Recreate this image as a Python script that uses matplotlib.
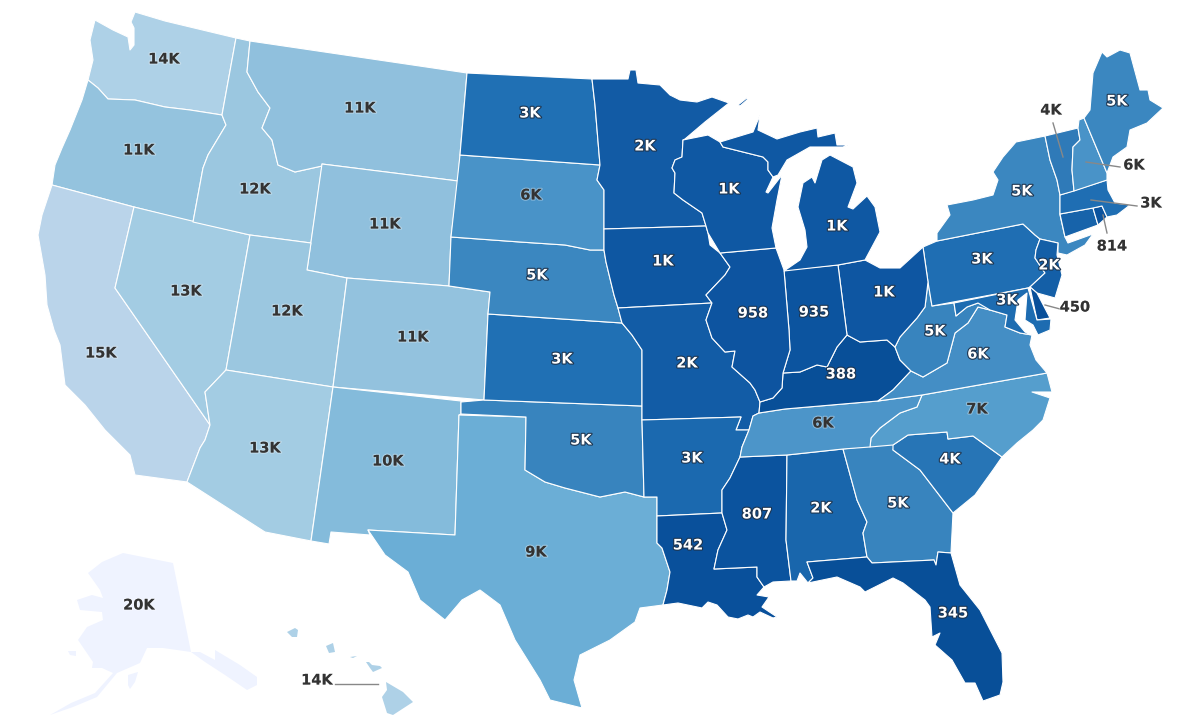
import matplotlib
matplotlib.use("Agg")
import matplotlib.pyplot as plt
import matplotlib.patheffects as pe
from matplotlib.colors import LinearSegmentedColormap

# state outlines (x, y in picture pixels)
WA = [(95,20),(113,30),(128,37),(130,50),(134,45),(134,28),(131,22),(135,12),(165,21),(236,38),(222,115),(190,110),(165,107),(135,100),(108,99),(98,88),(88,80),(93,60),(90,40)]
OR = [(88,80),(98,88),(108,99),(135,100),(165,107),(190,110),(222,115),(226,125),(208,155),(203,168),(193,222),(134,207),(52,185),(55,165),(62,148),(70,130),(82,100)]
CA = [(52,185),(134,207),(115,288),(210,425),(205,440),(200,448),(187,482),(135,475),(130,455),(105,430),(85,405),(65,385),(60,345),(54,330),(47,305),(45,275),(38,235),(42,215)]
NV = [(134,207),(250,235),(226,370),(205,392),(210,425),(115,288)]
ID = [(236,38),(250,41),(247,72),(258,92),(270,108),(262,128),(272,140),(278,165),(295,172),(322,166),(311,243),(250,235),(193,222),(203,168),(208,155),(226,125),(222,115)]
MT = [(250,41),(467,73),(460,155),(458,181),(322,164),(322,166),(295,172),(278,165),(272,140),(262,128),(270,108),(258,92),(247,72)]
WY = [(322,164),(458,181),(451,237),(449,286),(347,278),(307,270)]
UT = [(250,235),(311,243),(307,270),(347,278),(333,387),(226,370)]
CO = [(347,278),(449,286),(490,292),(488,314),(484,400),(333,387)]
AZ = [(226,370),(333,387),(311,541),(265,532),(187,482),(200,448),(205,440),(210,425),(205,392)]
NM = [(333,387),(461,401),(461,414),(459,415),(455,535),(368,530),(370,535),(331,532),(329,544),(311,541)]
TX = [(459,415),(526,417),(525,470),(545,482),(565,488),(600,497),(625,492),(644,497),(657,497),(657,543),(662,548),(670,572),(667,590),(663,605),(640,608),(635,622),(610,640),(580,655),(574,680),(582,708),(550,700),(540,680),(515,640),(500,605),(480,590),(462,600),(445,620),(420,600),(408,572),(385,555),(368,530),(455,535)]
OK = [(461,402),(484,400),(642,406),(642,420),(644,497),(625,492),(600,497),(565,488),(545,482),(525,470),(526,417),(461,414)]
KS = [(488,314),(622,323),(632,335),(642,350),(642,406),(484,400)]
NE = [(451,237),(520,242),(565,245),(590,250),(604,250),(606,262),(614,295),(618,308),(622,323),(488,314),(490,292),(449,286)]
SD = [(460,155),(600,165),(597,180),(604,190),(604,229),(604,250),(590,250),(565,245),(520,242),(451,237)]
ND = [(467,73),(592,79),(595,105),(600,165),(460,155)]
MN = [(592,79),(628,79),(630,70),(636,70),(638,83),(660,85),(670,95),(680,100),(697,102),(712,97),(729,103),(705,122),(685,139),(683,140),(682,157),(675,160),(672,168),(675,173),(674,193),(683,200),(702,213),(706,226),(604,229),(604,190),(597,180),(600,165),(595,105)]
IA = [(604,229),(706,226),(708,233),(710,245),(720,253),(730,267),(725,275),(706,295),(712,303),(618,308),(614,295),(606,262),(604,250)]
MO = [(618,308),(712,303),(706,320),(712,338),(725,352),(735,351),(732,367),(750,383),(755,390),(760,402),(759,413),(753,416),(749,430),(736,430),(741,417),(642,420),(642,350),(632,335),(622,323)]
AR = [(642,420),(741,417),(736,430),(749,430),(742,447),(740,457),(730,478),(722,490),(722,513),(657,516),(657,497),(644,497)]
LA = [(657,516),(722,513),(727,530),(718,550),(714,569),(757,567),(757,577),(764,587),(757,595),(769,597),(762,607),(777,617),(773,618),(760,612),(753,617),(748,615),(738,619),(728,617),(717,605),(708,602),(702,608),(678,603),(663,605),(667,590),(670,572),(662,548),(657,543)]
MS = [(740,457),(787,455),(786,540),(791,581),(773,582),(764,587),(757,577),(757,567),(714,569),(718,550),(727,530),(722,513),(722,490),(730,478)]
AL = [(787,455),(843,449),(857,500),(867,522),(863,533),(867,557),(807,562),(813,578),(808,583),(800,573),(797,581),(791,581),(786,540)]
GA = [(843,449),(895,443),(893,450),(920,470),(943,500),(953,513),(952,533),(951,553),(938,552),(936,565),(934,560),(872,563),(867,557),(863,533),(867,522),(857,500)]
FL = [(807,562),(867,557),(872,563),(934,560),(936,565),(938,552),(951,553),(960,585),(980,610),(1002,653),(1003,682),(1000,695),(983,701),(975,683),(965,683),(952,660),(935,645),(940,633),(932,637),(930,607),(925,600),(903,583),(893,578),(865,592),(860,587),(837,577),(808,583),(813,578)]
SC = [(893,445),(908,435),(947,432),(948,439),(973,436),(1002,457),(993,470),(975,495),(953,513),(943,500),(920,470),(893,450)]
NC = [(870,447),(871,438),(880,428),(900,413),(917,407),(922,395),(1047,373),(1052,392),(1032,392),(1050,398),(1043,420),(1033,430),(1017,443),(1002,457),(973,436),(948,439),(947,432),(908,435),(893,445)]
TN = [(753,416),(759,413),(785,409),(878,401),(922,395),(917,407),(900,413),(880,428),(871,438),(870,447),(843,449),(787,455),(740,457),(742,447),(749,430)]
KY = [(759,413),(760,402),(773,398),(782,388),(783,373),(800,372),(817,365),(827,367),(837,347),(847,335),(860,342),(887,340),(895,347),(900,360),(911,371),(893,390),(878,401),(785,409)]
VA = [(911,371),(923,377),(947,363),(955,333),(968,323),(978,307),(990,310),(1007,315),(1005,327),(1020,333),(1032,335),(1030,345),(1036,360),(1047,373),(922,395),(878,401),(893,390)]
WV = [(932,306),(954,303),(956,316),(967,307),(978,303),(992,309),(990,310),(978,307),(968,323),(955,333),(947,363),(923,377),(911,371),(900,360),(895,347),(900,337),(917,318),(925,307),(928,282)]
PA = [(923,247),(937,241),(1023,224),(1035,235),(1040,239),(1036,250),(1035,258),(1045,273),(1030,287),(1028,288),(932,306),(928,282)]
NY = [(1016,142),(1045,136),(1050,160),(1057,180),(1060,195),(1060,215),(1065,237),(1068,243),(1093,234),(1085,245),(1067,255),(1058,253),(1058,243),(1040,239),(1035,235),(1023,224),(937,241),(937,233),(950,215),(947,205),(973,200),(993,195),(998,180),(993,172),(1003,157)]
NJ = [(1040,239),(1058,243),(1057,255),(1062,275),(1055,298),(1037,293),(1030,287),(1045,273),(1035,258),(1036,250)]
DE = [(1030,287),(1037,293),(1050,318),(1037,320)]
MD = [(954,303),(1028,288),(1037,320),(1051,319),(1050,330),(1038,335),(1033,325),(1025,320),(1027,293),(1018,300),(1015,320),(1025,332),(1032,335),(1020,333),(1005,327),(1007,315),(990,310),(978,303),(967,307),(956,316)]
CT = [(1060,214),(1093,208),(1098,225),(1065,237)]
RI = [(1093,208),(1102,206),(1107,217),(1098,225)]
MA = [(1060,195),(1107,180),(1108,190),(1115,203),(1130,205),(1117,215),(1107,217),(1102,206),(1093,208),(1060,214)]
VT = [(1045,136),(1078,128),(1080,140),(1073,147),(1072,170),(1074,191),(1060,195),(1057,180),(1050,160)]
NH = [(1079,120),(1084,118),(1107,173),(1107,180),(1074,191),(1072,170),(1073,147),(1080,140),(1078,128)]
ME = [(1084,118),(1090,110),(1093,73),(1102,52),(1107,57),(1120,50),(1130,53),(1140,90),(1148,90),(1150,100),(1163,108),(1147,123),(1130,130),(1127,147),(1113,157),(1107,173)]
OH = [(838,265),(865,260),(880,268),(900,268),(923,247),(928,282),(925,307),(917,318),(900,337),(895,347),(887,340),(860,342),(847,335)]
IN = [(784,270),(838,265),(847,335),(837,347),(827,367),(817,365),(800,372),(783,373),(790,350),(789,330)]
IL = [(720,253),(776,248),(784,270),(789,330),(790,350),(783,373),(782,388),(773,398),(760,402),(755,390),(750,383),(732,367),(735,351),(725,352),(712,338),(706,320),(712,303),(706,295),(725,275),(730,267)]
WI = [(683,140),(708,135),(720,142),(723,147),(763,157),(768,162),(768,170),(773,177),(766,192),(768,193),(782,175),(777,200),(772,228),(776,248),(720,253),(708,233),(706,226),(702,213),(683,200),(674,193),(675,173),(672,168),(675,160),(682,157)]
MI_UP = [(720,142),(753,132),(760,115),(758,130),(777,139),(800,132),(817,128),(818,137),(835,133),(837,145),(848,145),(843,147),(827,147),(810,147),(787,160),(778,175),(773,177),(768,170),(768,162),(763,157),(723,147)]
MI_LP = [(784,271),(800,260),(807,247),(805,230),(798,207),(803,183),(812,177),(815,183),(822,160),(830,155),(853,167),(857,183),(848,207),(853,209),(867,196),(875,207),(880,232),(865,260),(838,265)]
MI_ISLE = [(738,105),(748,97),(747,100),(740,106)]
AK = [(123,553),(173,563),(191,652),(163,648),(147,648),(140,663),(117,673),(97,697),(73,707),(50,715),(71,703),(95,693),(113,673),(102,668),(92,668),(93,662),(78,640),(87,627),(103,620),(102,612),(80,610),(77,600),(92,595),(103,598),(100,590),(88,573),(102,562)]
AK_SE = [(191,652),(200,652),(215,660),(215,650),(240,665),(257,677),(257,685),(247,690),(225,675),(205,662)]
AK_KODIAK = [(128,675),(138,672),(135,682),(130,689),(128,685)]
AK_NUNIVAK = [(68,651),(76,651),(76,656),(70,655)]
HI_KAUAI = [(287,632),(295,628),(298,630),(297,637),(292,637)]
HI_OAHU = [(326,646),(333,643),(335,652),(329,653)]
HI_MOLOKAI = [(350,657),(357,656),(353,658)]
HI_MAUI = [(366,662),(369,662),(372,665),(380,666),(382,668),(373,672),(370,668)]
HI_BIG = [(386,682),(403,692),(413,702),(393,715),(387,713),(382,697),(387,690)]

state_shapes = [
    [WA], [OR], [CA], [NV], [ID], [MT], [WY], [UT], [CO], [AZ], [NM], [TX], [OK], [KS], [NE], [SD], [ND],
    [MN], [IA], [MO], [AR], [LA], [MS], [AL], [GA], [FL], [SC], [NC], [TN], [KY], [VA], [WV], [PA], [NY],
    [NJ], [DE], [MD], [CT], [RI], [MA], [VT], [NH], [ME], [OH], [IN], [IL], [WI], [MI_UP, MI_LP, MI_ISLE],
    [AK, AK_SE, AK_KODIAK, AK_NUNIVAK], [HI_KAUAI, HI_OAHU, HI_MOLOKAI, HI_MAUI, HI_BIG],
]
# values read by the label and the shade
state_values = [
    14000, 11400, 15000, 13000, 12000, 11000, 11000, 12000, 11300, 13000, 10000, 9000, 4800, 3000, 5000, 6000, 3000,
    1600, 1200, 1700, 2600, 542, 807, 2400, 4800, 345, 3500, 6900, 6200, 388, 5600, 4800, 2900, 5000,
    1900, 450, 2800, 2200, 814, 2900, 4000, 6000, 5000, 1100, 935, 958, 1250, 1250,
    20000, 14000,
]
label_x = [164, 139, 101, 186, 255, 360, 385, 287, 413, 265, 388, 536, 581, 562, 537, 531, 530,
           645, 663, 687, 692, 688, 757, 821, 898, 953, 950, 977, 823, 841, 978, 935, 982, 1022,
           1049, 1075, 1007, None, 1112, 1151, 1051, 1134, 1117, 884, 814, 753, 729, 837,
           139, 317]
label_y = [59, 150, 353, 291, 189, 108, 224, 311, 337, 448, 461, 552, 440, 359, 275, 195, 113,
           146, 261, 363, 458, 545, 514, 508, 503, 613, 459, 409, 423, 374, 354, 331, 259, 191,
           265, 307, 300, None, 246, 203, 110, 165, 101, 292, 312, 313, 189, 226,
           605, 680]
# labels that sit outside their state, index into the lists above -> leader line ends
outside = [35, 38, 39, 40, 41, 49]
leader_x = [(1045, 1060), (1103, 1107), (1091, 1137), (1053, 1063), (1086, 1120), (335, 378)]
leader_y = [(305, 309), (215, 233), (200, 206), (123, 157), (162, 167), (684, 684)]

color_pos = [0, 345, 1000, 2000, 3000, 4000, 5000, 6000, 7000, 9000, 10000, 11000, 12000, 13000, 14000, 15000, 20000]
color_hex = ["#084a92", "#084f99", "#0d55a1", "#1560a8", "#2070b4", "#2f7ab8", "#3b87c0", "#4a93c8", "#569fce",
             "#6baed6", "#84bbdb", "#90c0dd", "#9bc7e0", "#a3cce3", "#aed1e7", "#b9d4ea", "#eff3ff"]
cmap = LinearSegmentedColormap.from_list("bl", [(p / 20000, c) for p, c in zip(color_pos, color_hex)])


def fmt(v):
    return f"{round(v / 1000)}K" if v >= 1000 else str(v)


fig = plt.figure(figsize=(12, 7.2), dpi=100)
ax = fig.add_axes([0, 0, 1, 1])
ax.set_xlim(0, 1200)
ax.set_ylim(720, 0)
ax.axis("off")

for k, (shapes, v) in enumerate(zip(state_shapes, state_values)):
    # alaska and hawaii get no white rim, it would eat the small islands
    edge = "white" if k < 48 else "none"
    for pts in shapes:
        xs, ys = zip(*pts)
        ax.fill(xs, ys, facecolor=cmap(v / 20000), edgecolor=edge, lw=0.8, joinstyle="round")

for lx, ly in zip(leader_x, leader_y):
    ax.plot(lx, ly, color="#888888", lw=1)

for i, v in enumerate(state_values):
    if label_x[i] is None:
        continue
    if v >= 5900 or i in outside:
        col, halo = "#333333", (1, 1, 1, 0.35)
    else:
        col, halo = "white", "#1d3550"
    ax.text(label_x[i], label_y[i], fmt(v), ha="center", va="center", fontsize=10.5, fontweight="bold", color=col,
            path_effects=[pe.withStroke(linewidth=1.6, foreground=halo)])

fig.savefig("out.png", dpi=100)
